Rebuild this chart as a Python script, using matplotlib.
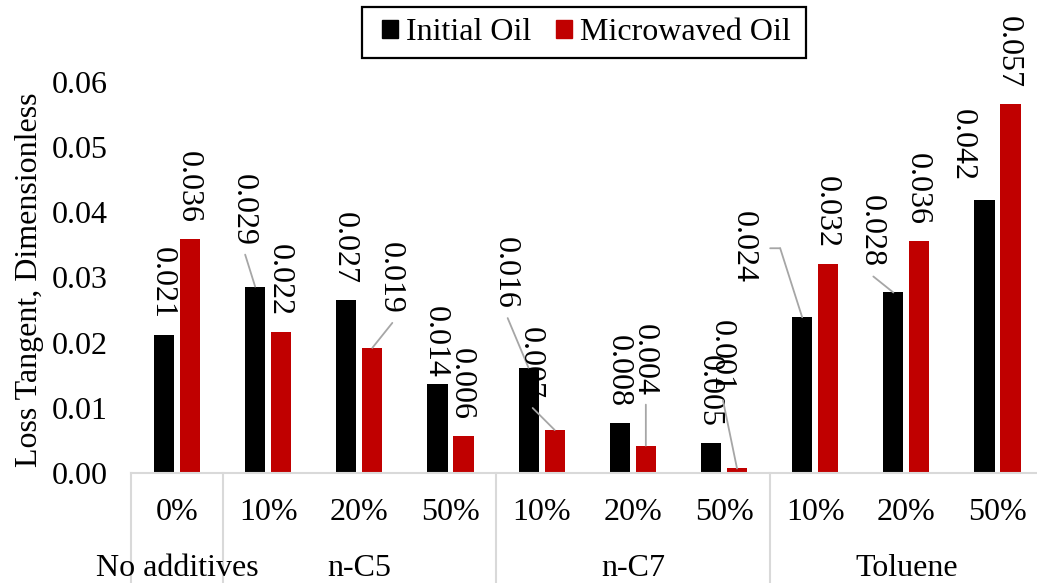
import matplotlib
matplotlib.use("Agg")
import matplotlib.pyplot as plt
from matplotlib.patches import Patch, Rectangle
from matplotlib.transforms import offset_copy
import numpy as np

plt.rcParams['font.family'] = ['Liberation Serif', 'DejaVu Serif']
plt.rcParams['font.size'] = 23

# loss tangent data
categories = ['0%', '10%', '20%', '50%', '10%', '20%', '50%', '10%', '20%', '50%']
groups = ['No additives', 'n-C5', 'n-C7', 'Toluene']
group_sizes = [1, 3, 3, 3]
initial = [0.0212, 0.0286, 0.0266, 0.0137, 0.0161, 0.0076, 0.0046, 0.0239, 0.0277, 0.0419]
microwaved = [0.0359, 0.0217, 0.0192, 0.0057, 0.0066, 0.0042, 0.0007, 0.0321, 0.0356, 0.0567]

BLACK = '#000000'
RED = '#c00000'
GREY = '#d9d9d9'
LEADER = '#a6a6a6'

# label shifts in pixels (dx, dy) for labels moved off their bar, and the leader kind
shifts_initial = {1: (-10, 25, 'line'), 3: (0, -10, None), 4: (-21, 43, 'line'),
                  7: (-57, 18, 'elbow'), 8: (-20, 9, 'line'), 9: (-20, 3, None)}
shifts_micro = {2: (20, 18, 'line'), 4: (-22, 15, 'line'), 5: (0, 34, 'line'),
                6: (-14, 61, 'line')}

fig = plt.figure(figsize=(10.37, 5.83), dpi=100)
ax = fig.add_axes([131.4 / 1037, 1 - 473 / 583, 911.7 / 1037, 391 / 583])

x = np.arange(len(categories))
w = 0.22
off = 0.1426
ax.bar(x - off, initial, w, color=BLACK)
ax.bar(x + off, microwaved, w, color=RED)

ax.set_xlim(-0.5, len(categories) - 0.5)
ax.set_ylim(0, 0.06)
yt = np.arange(0, 0.061, 0.01)
ax.set_yticks(yt)
ax.set_yticklabels([f'{t:.2f}' for t in yt])
ax.tick_params(axis='y', length=0, pad=17)
ax.set_xticks([])
for s in ['top', 'right', 'left']:
    ax.spines[s].set_visible(False)
ax.spines['bottom'].set_color(GREY)
ax.spines['bottom'].set_linewidth(1.5)

PAD = 16
lead_kw = dict(arrowstyle='-', color=LEADER, lw=1.3, shrinkA=0, shrinkB=0)


def put_labels(xs, vals, shifts):
    for i, (xi, v) in enumerate(zip(xs, vals)):
        dx, dy, lead = shifts.get(i, (0, 0, None))
        ax.annotate(f'{v:.3f}', xy=(xi, v), xytext=(dx - 2, PAD + dy),
                    textcoords='offset pixels', rotation=270,
                    ha='center', va='bottom', annotation_clip=False)
        if lead == 'line':
            ax.annotate('', xy=(xi, v), xytext=(dx, PAD + dy - 9),
                        textcoords='offset pixels', annotation_clip=False,
                        arrowprops=lead_kw)
        elif lead == 'elbow':
            mid = PAD + dy + 35
            ax.annotate('', xy=(xi, v), xytext=(dx + 35, mid),
                        textcoords='offset pixels', annotation_clip=False,
                        arrowprops=lead_kw)
            corner = offset_copy(ax.transData, fig=fig, x=dx + 35, y=mid, units='dots')
            ax.annotate('', xy=(xi, v), xycoords=corner, xytext=(-10, 0),
                        textcoords='offset pixels', annotation_clip=False,
                        arrowprops=lead_kw)


put_labels(x - off, initial, shifts_initial)
put_labels(x + off, microwaved, shifts_micro)

# two-level category axis
trans = ax.get_xaxis_transform()
for xi, c in zip(x, categories):
    ax.text(xi, -40 / 391, c, transform=trans, ha='center', va='center')
start = 0
for g, n in zip(groups, group_sizes):
    ax.text(start + (n - 1) / 2, -95 / 391, g, transform=trans, ha='center', va='center')
    ax.plot([start - 0.5, start - 0.5], [0, -0.3], transform=trans, color=GREY,
            lw=1.5, clip_on=False)
    start += n

fig.text(30 / 1037, 1 - 280 / 583, 'Loss Tangent, Dimensionless', rotation=90,
         ha='center', va='center')

# legend with a plain square frame
handles = [Patch(color=BLACK, label='Initial Oil'), Patch(color=RED, label='Microwaved Oil')]
fig.legend(handles=handles, loc='center', bbox_to_anchor=(586 / 1037, 1 - 33 / 583),
           ncol=2, frameon=False, handlelength=0.5, handleheight=0.5,
           handletextpad=0.25, columnspacing=0.78, borderpad=0, borderaxespad=0)
fig.patches.append(Rectangle((362 / 1037, 1 - 58 / 583), 444 / 1037, 51 / 583,
                             transform=fig.transFigure, fill=False,
                             edgecolor='black', linewidth=1.6))

fig.savefig('out.png', dpi=100)
